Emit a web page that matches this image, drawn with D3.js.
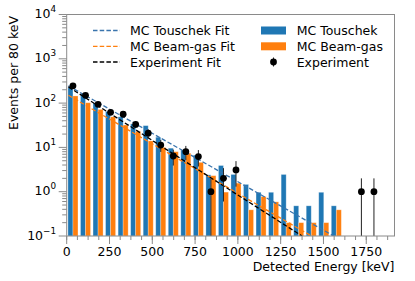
<!DOCTYPE html>
<html>
<head>
<meta charset="utf-8">
<script src="https://cdn.jsdelivr.net/npm/d3@7"></script>
<style>
  body { margin: 0; background: #fff; }
  text { font-family: "DejaVu Sans", sans-serif; fill: #000; }
</style>
</head>
<body>
<svg id="chart" width="415" height="281"></svg>
<script>
// bin centres in keV (bins of ~73 keV)
var binCenters = [36.6, 109.9, 183.2, 256.4, 329.7, 402.9, 476.2, 549.5, 622.7, 696.0,
  769.2, 842.5, 915.8, 989.0, 1062.3, 1135.5, 1208.8, 1282.1, 1355.3, 1428.6,
  1501.8, 1575.1, 1648.4, 1721.6, 1794.9];
var binWidth = 73.26;

// MC histograms (one value per bin, 0 = empty)
var mcTouschek = [225, 160, 100, 65, 49, 34, 31, 17, 9.6, 8.7,
  6.7, 2.4, 3.9, 2.45, 1.46, 0.97, 0.97, 2.45, 0.48, 0.48,
  0.97, 0.48, 0, 0, 0];
var mcBeamGas = [145, 102, 72, 49, 32, 23, 14, 10, 8.0, 7.4,
  4.6, 2.3, 0.98, 1.56, 0.39, 0.78, 0.59, 0.2, 0.2, 0.2,
  0.2, 0.39, 0, 0, 0];

// experiment counts and errors
var expCounts = [245, 150, 94, 62, 56, 33, 21, 11.3, 6.4, 8.0,
  6.2, 1.0, 2.0, 3.1, 0, 0, 0, 0, 0, 0,
  0, 0, 0, 1.0, 1.0];
var expErrors = [15.7, 12.2, 9.7, 7.9, 7.5, 5.7, 4.6, 3.4, 2.5, 2.8,
  2.5, 1.0, 1.4, 1.8, 0, 0, 0, 0, 0, 0,
  0, 0, 0, 1.0, 1.0];

// fit lines: [energy, value] end points (exponential -> straight on log axis)
var touschekFit = [[10, 245], [1560, 0.1]];
var beamGasFit = [[10, 150], [1430, 0.1]];
var experimentFit = [[10, 232], [1375, 0.1]];

var xTicks = [0, 250, 500, 750, 1000, 1250, 1500, 1750];
var yTicks = [0.1, 1, 10, 100, 1000, 10000];
var yExps = ["\u22121", "0", "1", "2", "3", "4"];

var blue = "#1f77b4", orange = "#ff7f0e", axisGray = "#8a8a8a";

var svg = d3.select("#chart");
var pL = 66.7, pR = 394.5, pT = 14.5, pB = 236;

var x = d3.scaleLinear().domain([0, 1915]).range([pL, pR]);
var y = d3.scaleLog().domain([0.1, 10000]).range([pB, pT]);

svg.append("clipPath").attr("id", "clip")
  .append("rect").attr("x", pL).attr("y", pT)
  .attr("width", pR - pL).attr("height", pB - pT);

var plot = svg.append("g").attr("clip-path", "url(#clip)");

// bars
var barW = 0.4 * binWidth;
function drawBars(vals, offset, color) {
  plot.append("g").selectAll("rect")
    .data(vals.map(function(v, i) { return {c: binCenters[i], v: v}; }).filter(function(d) { return d.v > 0; }))
    .join("rect")
    .attr("x", function(d) { return x(d.c + offset); })
    .attr("width", x(barW) - x(0))
    .attr("y", function(d) { return y(d.v); })
    .attr("height", function(d) { return pB - y(d.v); })
    .attr("fill", color)
    .attr("stroke", "rgba(255,255,255,0.35)")
    .attr("stroke-width", 0.8);
}
drawBars(mcTouschek, -barW, blue);
drawBars(mcBeamGas, 0, orange);

// fits
var line = d3.line().x(function(d) { return x(d[0]); }).y(function(d) { return y(d[1]); });
[[touschekFit, "#3a74ad"], [beamGasFit, orange], [experimentFit, "#000"]].forEach(function(f) {
  plot.append("path").attr("d", line(f[0]))
    .attr("fill", "none").attr("stroke", f[1])
    .attr("stroke-width", 1.3).attr("stroke-dasharray", "4.5,2.2");
});

// experiment points
var pts = expCounts.map(function(v, i) { return {c: binCenters[i], v: v, e: expErrors[i]}; })
  .filter(function(d) { return d.v > 0; });
plot.append("g").selectAll("line").data(pts).join("line")
  .attr("x1", function(d) { return x(d.c); }).attr("x2", function(d) { return x(d.c); })
  .attr("y1", function(d) { return d.v - d.e > 0 ? y(d.v - d.e) : pB + 5; })
  .attr("y2", function(d) { return y(d.v + d.e); })
  .attr("stroke", "#222").attr("stroke-width", 1);
plot.append("g").selectAll("circle").data(pts).join("circle")
  .attr("cx", function(d) { return x(d.c); })
  .attr("cy", function(d) { return y(d.v); })
  .attr("r", 3.4).attr("fill", "#000");

// frame
svg.append("rect").attr("x", pL).attr("y", pT)
  .attr("width", pR - pL).attr("height", pB - pT)
  .attr("fill", "none").attr("stroke", axisGray).attr("stroke-width", 1);

// x axis
var xAxis = svg.append("g");
var xMinor = d3.range(0, 1915, 62.5);
xAxis.selectAll("line.minor").data(xMinor).join("line").attr("class", "minor")
  .attr("x1", function(d) { return x(d); }).attr("x2", function(d) { return x(d); })
  .attr("y1", pB).attr("y2", pB + 4)
  .attr("stroke", axisGray);
xAxis.selectAll("line.major").data(xTicks).join("line").attr("class", "major")
  .attr("x1", function(d) { return x(d); }).attr("x2", function(d) { return x(d); })
  .attr("y1", pB).attr("y2", pB + 8)
  .attr("stroke", axisGray);
xAxis.selectAll("text").data(xTicks).join("text")
  .attr("x", function(d) { return x(d); }).attr("y", 256).attr("text-anchor", "middle")
  .attr("font-size", 12.5).text(function(d) { return d; });

// y axis
var yAxis = svg.append("g");
var yMinor = [];
yTicks.slice(0, -1).forEach(function(t) { for (var k = 2; k < 10; k++) yMinor.push(t * k); });
yAxis.selectAll("line.minor").data(yMinor).join("line").attr("class", "minor")
  .attr("x1", pL - 4.5).attr("x2", pL)
  .attr("y1", function(d) { return y(d); }).attr("y2", function(d) { return y(d); })
  .attr("stroke", axisGray);
yAxis.selectAll("line.major").data(yTicks).join("line").attr("class", "major")
  .attr("x1", pL - 8).attr("x2", pL)
  .attr("y1", function(d) { return y(d); }).attr("y2", function(d) { return y(d); })
  .attr("stroke", axisGray);
yTicks.forEach(function(t, i) {
  var txt = yAxis.append("text").attr("x", 56).attr("y", y(t) + 3.5)
    .attr("text-anchor", "end").attr("font-size", 12.5);
  txt.append("tspan").text("10");
  txt.append("tspan").attr("dy", -6).attr("font-size", 8.8).text(yExps[i]);
});

// axis labels
svg.append("text").attr("x", pR).attr("y", 271).attr("text-anchor", "end")
  .attr("font-size", 12.5).text("Detected Energy [keV]");
svg.append("text").attr("transform", "translate(17.5,73) rotate(-90)")
  .attr("text-anchor", "middle").attr("font-size", 12.5).text("Events per 80 keV");

// legend
var leg = svg.append("g");
var rows = [30.5, 46.3, 62];
[["MC Touschek Fit", "#3a74ad"], ["MC Beam-gas Fit", orange], ["Experiment Fit", "#000"]].forEach(function(d, i) {
  leg.append("line").attr("x1", 93).attr("x2", 120).attr("y1", rows[i]).attr("y2", rows[i])
    .attr("stroke", d[1]).attr("stroke-width", 1.3).attr("stroke-dasharray", "4.5,2.2");
  leg.append("text").attr("x", 130).attr("y", rows[i] + 4.5).attr("font-size", 12.5).text(d[0]);
});
[["MC Touschek", blue], ["MC Beam-gas", orange]].forEach(function(d, i) {
  leg.append("rect").attr("x", 261).attr("y", rows[i] - 4).attr("width", 25).attr("height", 8)
    .attr("fill", d[1]);
  leg.append("text").attr("x", 296.7).attr("y", rows[i] + 4.5).attr("font-size", 12.5).text(d[0]);
});
leg.append("line").attr("x1", 273.5).attr("x2", 273.5).attr("y1", rows[2] - 4.5).attr("y2", rows[2] + 4.5)
  .attr("stroke", "#222");
leg.append("circle").attr("cx", 273.5).attr("cy", rows[2]).attr("r", 3.4).attr("fill", "#000");
leg.append("text").attr("x", 296.7).attr("y", rows[2] + 4.5).attr("font-size", 12.5).text("Experiment");
</script>
</body>
</html>
